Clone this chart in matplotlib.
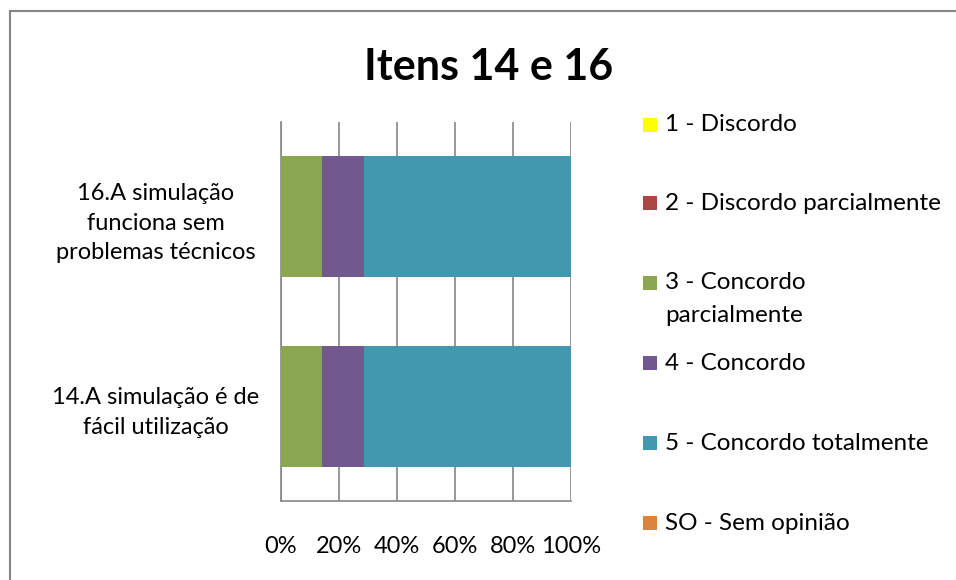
import matplotlib
matplotlib.use("Agg")
import matplotlib.pyplot as plt
from matplotlib.patches import Rectangle
from matplotlib.lines import Line2D
import numpy as np

plt.rcParams['font.family'] = ['Lato', 'DejaVu Sans']

title = "Itens 14 e 16"
categories = ["14.A simulação é de\nfácil utilização",
              "16.A simulação\nfunciona sem\nproblemas técnicos"]
series_labels = ["1 - Discordo", "2 - Discordo parcialmente",
                 "3 - Concordo\nparcialmente", "4 - Concordo",
                 "5 - Concordo totalmente", "SO - Sem opinião"]
values_1 = [0.0, 0.0]
values_2 = [0.0, 0.0]
values_3 = [14.29, 14.29]
values_4 = [14.29, 14.29]
values_5 = [71.42, 71.42]
values_so = [0.0, 0.0]
series_values = [values_1, values_2, values_3, values_4, values_5, values_so]
colors = ["#FFFF00", "#AA4643", "#8BA650", "#71588F", "#4198AF", "#DB843D"]
xticks = [0, 20, 40, 60, 80, 100]
xticklabels = ["0%", "20%", "40%", "60%", "80%", "100%"]

W, H = 956, 580
fig = plt.figure(figsize=(W / 100, H / 100), dpi=100)
fig.patch.set_facecolor("white")

# outer border (only left and top visible in the crop)
fig.add_artist(Line2D([9.5 / W, 9.5 / W], [0, 1 - 10.5 / H], transform=fig.transFigure,
                      color="#868686", linewidth=1.5))
fig.add_artist(Line2D([9.5 / W, 1], [1 - 10.5 / H, 1 - 10.5 / H], transform=fig.transFigure,
                      color="#868686", linewidth=1.5))

FS = 17
LFS = 17.5

ax = fig.add_axes([281 / W, (H - 501) / H, 290 / W, 379 / H])
y = np.arange(len(categories))
left = np.zeros(len(categories))
for vals, col, lab in zip(series_values, colors, series_labels):
    ax.barh(y, vals, left=left, height=0.64, color=col, label=lab, zorder=3)
    left = left + np.array(vals)

ax.set_xlim(0, 100)
ax.set_ylim(-0.5, 1.5)
ax.set_xticks(xticks)
ax.set_xticklabels(xticklabels)
ax.set_yticks(y)
ax.set_yticklabels(categories, ha="center", multialignment="center", linespacing=1.5)
ax.tick_params(axis="y", length=0, pad=90, labelsize=FS)
ax.tick_params(axis="x", length=0, pad=25, labelsize=FS)
ax.grid(axis="x", color="#868686", linewidth=1.2, zorder=0)
for s in ["top", "right"]:
    ax.spines[s].set_visible(False)
for s in ["left", "bottom"]:
    ax.spines[s].set_color("#868686")
    ax.spines[s].set_linewidth(1.2)

fig.text(489 / W, 1 - 67 / H, title, ha="center", va="center",
         fontsize=31, fontweight="bold")

# legend
leg_y = [125, 203, 283, 363, 443, 523]
for lab, col, yy in zip(series_labels, colors, leg_y):
    fig.add_artist(Rectangle((643 / W, 1 - (yy + 7) / H), 14 / W, 14 / H,
                             transform=fig.transFigure, facecolor=col, edgecolor="none"))
    lines = lab.split("\n")
    for i, line in enumerate(lines):
        fig.text(665 / W, 1 - (yy + 33 * i) / H, line, ha="left", va="center",
                 fontsize=LFS)

fig.savefig("out.png", dpi=100)
